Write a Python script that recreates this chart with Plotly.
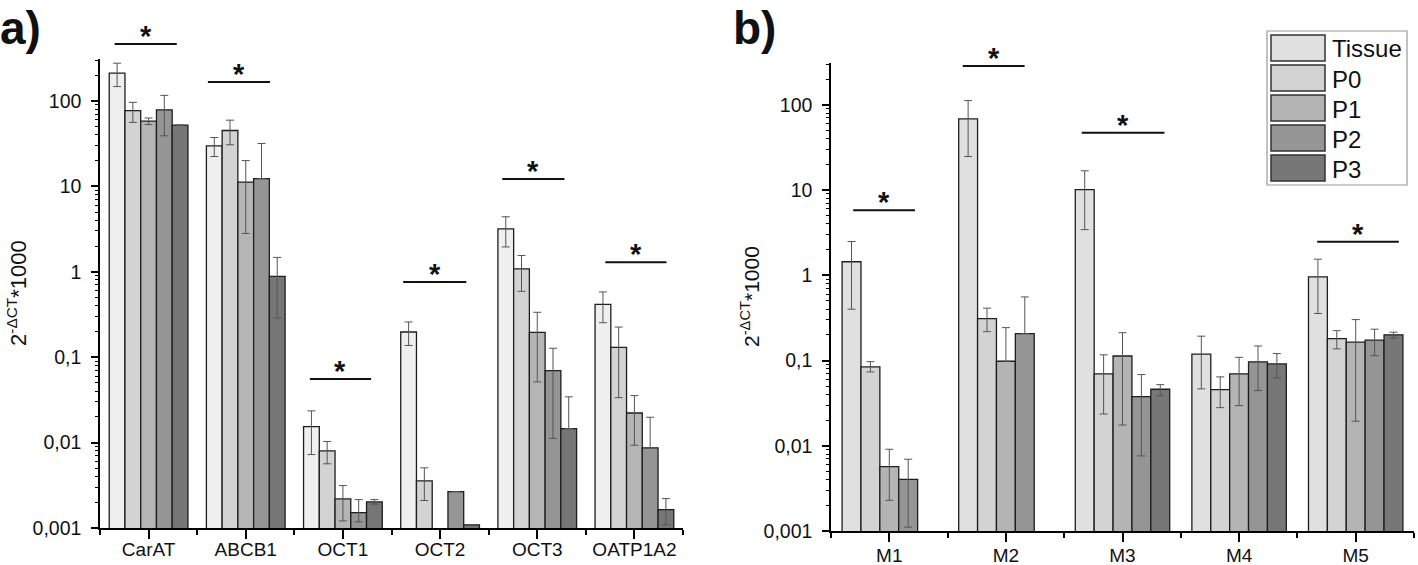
import plotly.graph_objects as go

FONT = "Liberation Sans, Arial, sans-serif"

series = ["Tissue", "P0", "P1", "P2", "P3"]
colors_a = ["#efefef", "#d3d3d3", "#b5b5b5", "#959595", "#767676"]
colors_b = ["#e0e0e0", "#d3d3d3", "#b4b4b4", "#959595", "#777777"]

# ---------------- panel a ----------------
cat_a = ["CarAT", "ABCB1", "OCT1", "OCT2", "OCT3", "OATP1A2"]
a_tissue = [211, 29.8, 0.0154, 0.197, 3.18, 0.415]
a_p0 = [77, 45, 0.0080, 0.00356, 1.08, 0.130]
a_p1 = [57.8, 11.2, 0.00219, None, 0.195, 0.0222]
a_p2 = [78.5, 12.3, 0.00151, 0.00267, 0.0695, 0.00867]
a_p3 = [52, 0.88, 0.00202, 0.00109, 0.0146, 0.00164]

a_hi_tissue = [276, 37.2, 0.0235, 0.258, 4.4, 0.58]
a_hi_p0 = [96, 59.4, 0.0103, 0.00506, 1.55, 0.225]
a_hi_p1 = [63, 20, 0.00314, None, 0.335, 0.0355]
a_hi_p2 = [116, 31.7, 0.00215, None, 0.127, 0.0198]
a_hi_p3 = [None, 1.47, 0.00215, None, 0.0343, 0.00221]

a_lo_tissue = [147, 22.3, 0.00724, 0.137, 1.95, 0.253]
a_lo_p0 = [56, 30.6, 0.00564, 0.0021, 0.589, 0.0336]
a_lo_p1 = [52.8, 2.8, 0.00121, None, 0.0513, 0.0093]
a_lo_p2 = [39, None, 0.00118, None, 0.0112, None]
a_lo_p3 = [None, 0.287, 0.0019, None, None, 0.00109]

# ---------------- panel b ----------------
cat_b = ["M1", "M2", "M3", "M4", "M5"]
b_tissue = [1.44, 68.5, 10.1, 0.119, 0.957]
b_p0 = [0.0841, 0.31, 0.0697, 0.0456, 0.181]
b_p1 = [0.00569, 0.098, 0.113, 0.0697, 0.164]
b_p2 = [0.00404, 0.207, 0.0377, 0.0964, 0.173]
b_p3 = [None, None, 0.046, 0.0912, 0.2]

b_hi_tissue = [2.49, 112, 16.8, 0.193, 1.545]
b_hi_p0 = [0.097, 0.411, 0.1165, 0.0643, 0.224]
b_hi_p1 = [0.0091, 0.243, 0.212, 0.109, 0.302]
b_hi_p2 = [0.00695, 0.557, 0.0684, 0.148, 0.233]
b_hi_p3 = [None, None, 0.0521, 0.1205, 0.215]

b_lo_tissue = [0.40, 24.7, 3.43, 0.0465, 0.356]
b_lo_p0 = [0.0735, 0.218, 0.0236, 0.028, 0.137]
b_lo_p1 = [0.00229, None, 0.0175, 0.0296, 0.0194]
b_lo_p2 = [0.00111, None, 0.0076, 0.0444, 0.114]
b_lo_p3 = [None, None, 0.0387, 0.0625, 0.183]

# significance bars (x in category units, y in paper units)
sig_a_x0 = [-0.35, 0.61, 1.66, 2.62, 3.64, 4.70]
sig_a_x1 = [0.29, 1.25, 2.29, 3.27, 4.28, 5.33]
sig_a_y = [0.922, 0.855, 0.329, 0.501, 0.683, 0.536]
sig_b_x0 = [-0.31, 0.63, 1.65, 3.67]
sig_b_x1 = [0.22, 1.16, 2.36, 4.37]
sig_b_y = [0.628, 0.883, 0.765, 0.572]

means_a = [a_tissue, a_p0, a_p1, a_p2, a_p3]
his_a = [a_hi_tissue, a_hi_p0, a_hi_p1, a_hi_p2, a_hi_p3]
los_a = [a_lo_tissue, a_lo_p0, a_lo_p1, a_lo_p2, a_lo_p3]
means_b = [b_tissue, b_p0, b_p1, b_p2, b_p3]
his_b = [b_hi_tissue, b_hi_p0, b_hi_p1, b_hi_p2, b_hi_p3]
los_b = [b_lo_tissue, b_lo_p0, b_lo_p1, b_lo_p2, b_lo_p3]

W, H = 1418, 565


def err(m, h):
    out = []
    for mv, hv in zip(m, h):
        if mv is None or hv is None:
            out.append(0)
        else:
            out.append(abs(hv - mv))
    return out


fig = go.Figure()


def add_panel(cats, means, his, los, colors, xa, ya):
    xs = list(range(len(cats)))
    for name, m, h, l, c in zip(series, means, his, los, colors):
        fig.add_trace(go.Bar(
            x=xs, y=m, name=name, xaxis=xa, yaxis=ya,
            offsetgroup=name, showlegend=False,
            marker=dict(color=c, line=dict(color="#1e1e1e", width=1.3)),
            error_y=dict(type="data", symmetric=False,
                         array=err(m, h), arrayminus=err(m, l),
                         color="#555555", thickness=1, width=4),
        ))


add_panel(cat_a, means_a, his_a, los_a, colors_a, "x", "y")
add_panel(cat_b, means_b, his_b, los_b, colors_b, "x2", "y2")

ytickvals = [0.001, 0.01, 0.1, 1, 10, 100]
yticktext = ["0,001", "0,01", "0,1", "1", "10", "100"]
yminor = [k * 10 ** e for e in range(-3, 3) for k in range(2, 10) if k * 10 ** e < 310]

yaxis_common = dict(
    type="log", range=[-3, 2.49], tickvals=ytickvals, ticktext=yticktext,
    ticks="outside", ticklen=7, tickwidth=1.5, tickcolor="black",
    showline=True, linecolor="black", linewidth=1.5, showgrid=False, zeroline=False,
    automargin=False, ticklabelstandoff=6,
    minor=dict(tickvals=yminor, ticks="outside", ticklen=3.5, tickwidth=1, tickcolor="black", showgrid=False),
    tickfont=dict(family=FONT, size=19.5, color="#111"),
)


def xaxis_common(cats, domain, anchor, standoff):
    return dict(
        domain=domain, anchor=anchor, range=[-0.5, len(cats) - 0.5],
        tickvals=list(range(len(cats))), ticktext=cats,
        ticks="outside", ticklen=9, tickwidth=1.5, tickcolor="black",
        showline=True, linecolor="black", linewidth=1.5, showgrid=False, zeroline=False,
        automargin=False, ticklabelstandoff=standoff,
        minor=dict(tickvals=[i - 0.5 for i in range(len(cats) + 1)], ticks="outside",
                   ticklen=5, tickwidth=1.5, tickcolor="black", showgrid=False),
        tickfont=dict(family=FONT, size=19, color="#111"),
    )


fig.update_layout(
    width=W, height=H,
    margin=dict(l=0, r=0, t=0, b=0, autoexpand=False),
    paper_bgcolor="white", plot_bgcolor="white",
    barmode="group", bargap=0.19, bargroupgap=0,
    font=dict(family=FONT, color="#111"),
    showlegend=False,
    xaxis=xaxis_common(cat_a, [100 / W, 683 / W], "y", -6),
    xaxis2=xaxis_common(cat_b, [831 / W, 1414 / W], "y2", -3),
    yaxis=dict(domain=[37 / H, 506 / H], anchor="x", **yaxis_common),
    yaxis2=dict(domain=[34 / H, 502 / H], anchor="x2", **yaxis_common),
)

shapes = []
annotations = []
for xr, x0s, x1s, ys in [("x", sig_a_x0, sig_a_x1, sig_a_y), ("x2", sig_b_x0, sig_b_x1, sig_b_y)]:
    for x0, x1, y in zip(x0s, x1s, ys):
        shapes.append(dict(type="line", xref=xr, yref="paper", x0=x0, x1=x1, y0=y, y1=y,
                           line=dict(color="#111", width=2)))
        annotations.append(dict(xref=xr, yref="paper", x=(x0 + x1) / 2, y=y, text="<b>*</b>",
                                showarrow=False, yanchor="bottom", yshift=-10,
                                font=dict(family=FONT, size=29, color="#111")))

# y-axis titles
ytitle = "2<sup>-\u0394CT</sup>*1000"
annotations.append(dict(xref="paper", yref="paper", x=17 / W, y=1 - 293 / H, text=ytitle,
                        textangle=-90, showarrow=False, xanchor="center", yanchor="middle",
                        font=dict(family=FONT, size=22, color="#111")))
annotations.append(dict(xref="paper", yref="paper", x=750 / W, y=1 - 296 / H, text=ytitle,
                        textangle=-90, showarrow=False, xanchor="center", yanchor="middle",
                        font=dict(family=FONT, size=21, color="#111")))

# panel labels
annotations.append(dict(xref="paper", yref="paper", x=-2 / W, y=1, xanchor="left", yanchor="top",
                        text="<b>a)</b>", showarrow=False,
                        font=dict(family=FONT, size=46, color="#111")))
annotations.append(dict(xref="paper", yref="paper", x=731 / W, y=1, xanchor="left", yanchor="top",
                        text="<b>b)</b>", showarrow=False,
                        font=dict(family=FONT, size=46, color="#111")))

# legend (box + swatches + labels) built from series / colors_b
shapes.append(dict(type="rect", xref="paper", yref="paper",
                   x0=1267 / W, x1=1407 / W, y0=1 - 31 / H, y1=1 - 185 / H,
                   line=dict(color="#9a9a9a", width=1.2), fillcolor="white", layer="above"))
for i, (name, c) in enumerate(zip(series, colors_b)):
    top = 35 + 30 * i
    shapes.append(dict(type="rect", xref="paper", yref="paper",
                       x0=1271 / W, x1=1325 / W, y0=1 - top / H, y1=1 - (top + 26) / H,
                       line=dict(color="#333333", width=1.5), fillcolor=c, layer="above"))
    annotations.append(dict(xref="paper", yref="paper", x=1330 / W, y=1 - (top + 14) / H,
                            xanchor="left", yanchor="middle", text=name, showarrow=False,
                            font=dict(family=FONT, size=24, color="#111")))

fig.update_layout(shapes=shapes, annotations=annotations)
fig.write_html("out.html", config={"displayModeBar": False},
               post_script="document.body.style.margin='0';document.body.style.overflow='hidden';")
